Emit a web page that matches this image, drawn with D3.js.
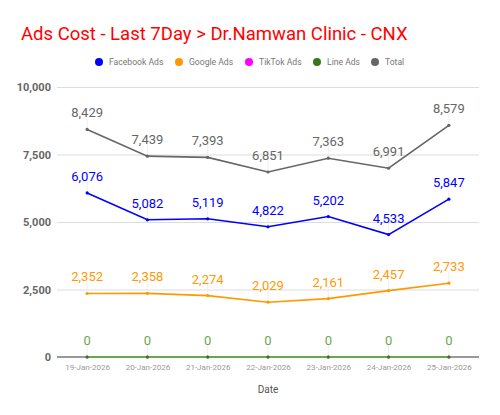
<!DOCTYPE html>
<html><head><meta charset="utf-8">
<script src="https://cdn.jsdelivr.net/npm/d3@7"></script>
<style>body{margin:0;background:#fff;}svg{font-family:Roboto,sans-serif;}</style>
</head><body><svg id="c" width="500" height="415"></svg>
<script>
const dates = ["19-Jan-2026","20-Jan-2026","21-Jan-2026","22-Jan-2026","23-Jan-2026","24-Jan-2026","25-Jan-2026"];
const facebookAds = [6076,5082,5119,4822,5202,4533,5847];
const googleAds = [2352,2358,2274,2029,2161,2457,2733];
const tiktokAds = [0,0,0,0,0,0,0];
const lineAds = [0,0,0,0,0,0,0];
const total = [8429,7439,7393,6851,7363,6991,8579];
const yTicks = [0,2500,5000,7500,10000];
const seriesNames = ["Facebook Ads","Google Ads","TikTok Ads","Line Ads","Total"];
const seriesColors = ["#0000ff","#ff9900","#ff00ff","#38761d","#666666"];
const labelColors = ["#0000ff","#ff9900","#ff00ff","#6aa84f","#666666"];

const series = [
  {name:seriesNames[0], values:facebookAds, color:seriesColors[0], lc:labelColors[0], labels:true},
  {name:seriesNames[1], values:googleAds, color:seriesColors[1], lc:labelColors[1], labels:true},
  {name:seriesNames[2], values:tiktokAds, color:seriesColors[2], lc:labelColors[2], labels:false},
  {name:seriesNames[3], values:lineAds, color:"#6aa84f", lc:labelColors[3], labels:true},
  {name:seriesNames[4], values:total, color:seriesColors[4], lc:labelColors[4], labels:true}
];

const svg = d3.select("#c");
const L=57, R=479, T=87, B=357;
const x = d3.scalePoint().domain(dates).range([L,R]).padding(0.5);
const y = d3.scaleLinear().domain([0,10000]).range([B,T]);
const fmt = d3.format(",");

svg.append("text").attr("x",21).attr("y",40).attr("fill","#ff0000")
  .attr("font-size",18.5).text("Ads Cost - Last 7Day > Dr.Namwan Clinic - CNX");

// legend
const legX = [99,179,249,317,375];
seriesNames.forEach((n,i)=>{
  svg.append("circle").attr("cx",legX[i]).attr("cy",62).attr("r",4).attr("fill",seriesColors[i]);
  svg.append("text").attr("x",legX[i]+10).attr("y",65).attr("font-size",8.6).attr("fill","#777").text(n);
});

// grid
const gy = svg.append("g").attr("transform",`translate(${L},0)`)
  .call(d3.axisLeft(y).tickValues(yTicks).tickSize(-(R-L)).tickFormat(fmt));
gy.select(".domain").remove();
gy.selectAll(".tick line").attr("stroke","#dddddd");
gy.selectAll(".tick text").attr("x",-6).attr("fill","#666").attr("font-size",11).attr("font-weight","bold").attr("font-family","Roboto,sans-serif");

// leader lines
series.filter(s=>s.labels).forEach(s=>{
  svg.append("g").selectAll("line").data(s.values).join("line")
    .attr("x1",(d,i)=>x(dates[i])).attr("x2",(d,i)=>x(dates[i]))
    .attr("y1",d=>y(d)).attr("y2",d=>y(d)-12)
    .attr("stroke","#eeeeee").attr("stroke-width",1);
});

// x axis
const gx = svg.append("g").attr("transform",`translate(0,${B})`)
  .call(d3.axisBottom(x).tickSize(0).tickPadding(7));
gx.select(".domain").attr("d",`M${L},0H${R}`).attr("stroke","#999").attr("stroke-width",2);
gx.selectAll(".tick text").attr("fill","#999").attr("font-size",8).attr("font-family","Roboto,sans-serif");

svg.append("text").attr("x",268).attr("y",393).attr("text-anchor","middle").attr("font-size",10).attr("fill","#555").text("Date");

const line = d3.line().x((d,i)=>x(dates[i])).y(d=>y(d));
series.forEach(s=>{
  svg.append("path").datum(s.values).attr("d",line).attr("fill","none").attr("stroke",s.color).attr("stroke-width",s.values===lineAds||s.values===tiktokAds?2:1.6);
  svg.append("g").selectAll("circle").data(s.values).join("circle")
    .attr("cx",(d,i)=>x(dates[i])).attr("cy",d=>y(d)).attr("r",1.6).attr("fill",s.values===lineAds?"#38761d":s.color);
});
series.filter(s=>s.labels).forEach(s=>{
  svg.append("g").selectAll("text").data(s.values).join("text")
    .attr("x",(d,i)=>x(dates[i])).attr("y",d=>y(d)-12).attr("text-anchor","middle")
    .attr("font-size",13).attr("fill",s.lc).text(d=>fmt(d));
});
</script></body></html>
